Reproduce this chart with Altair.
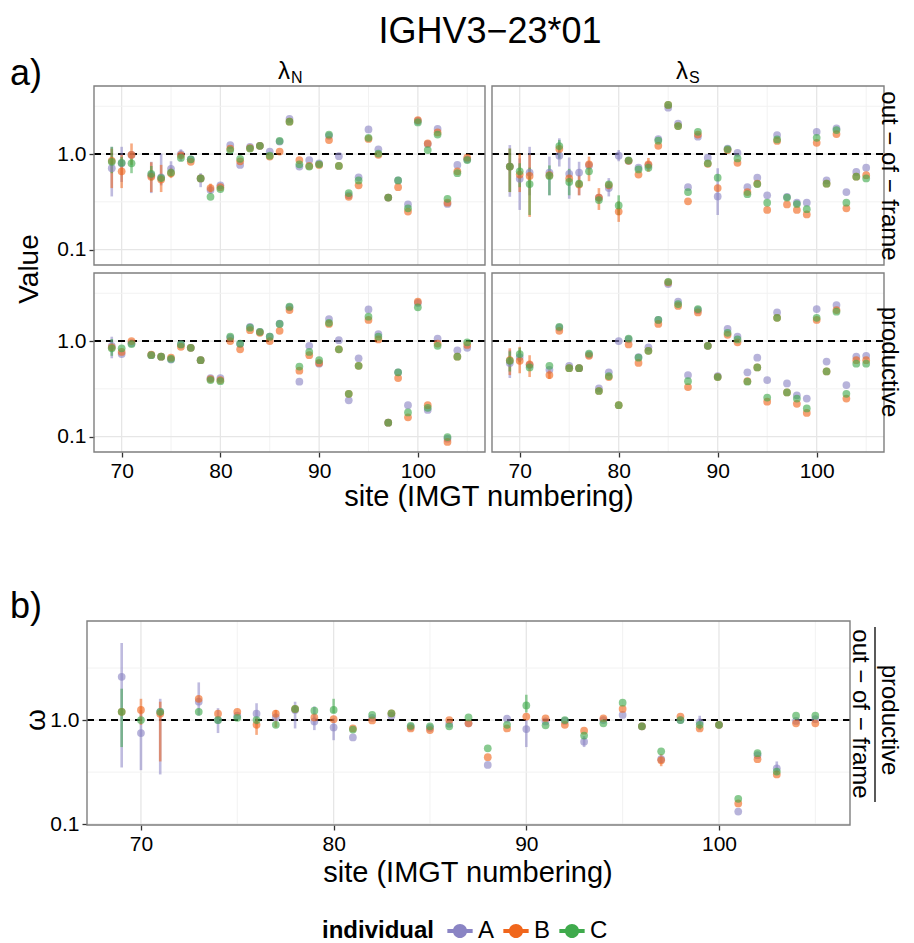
import altair as alt
import pandas as pd

SITES = [69, 70, 71] + list(range(73, 106))
INDIVIDUALS = ["A", "B", "C"]
COLORS = ["#8a84c4", "#f0661c", "#3faa4c"]
PANEL_TITLE = "IGHV3−23*01"

# out-of-frame, lambda_N
ON_A = [0.71, 0.80, 0.98, 0.60, 0.57, 0.70, 1.00, 0.88, 0.555, 0.42, 0.47, 1.24, 0.77, 1.19, 1.22, 1.06, 1.35, 2.33,
        0.74, 0.865, 0.80, 1.55, 0.95, 0.37, 0.57, 1.81, 1.12, 0.35, 0.53, 0.297, 2.22, 1.27, 1.83, 0.30, 0.77, 0.88]
ON_B = [0.85, 0.66, 0.98, 0.58, 0.54, 0.63, 0.97, 0.83, 0.555, 0.44, 0.45, 1.14, 0.84, 1.15, 1.22, 0.94, 1.06, 2.18,
        0.865, 0.75, 0.77, 1.40, 0.75, 0.357, 0.47, 1.44, 0.98, 0.35, 0.45, 0.25, 2.27, 1.29, 1.68, 0.31, 0.66, 0.915]
ON_C = [0.83, 0.81, 0.80, 0.62, 0.56, 0.64, 0.91, 0.88, 0.555, 0.357, 0.43, 1.10, 0.89, 1.14, 1.22, 0.96, 1.37, 2.18,
        0.78, 0.74, 0.78, 1.60, 0.75, 0.39, 0.53, 1.48, 1.01, 0.35, 0.53, 0.27, 2.14, 1.10, 1.60, 0.34, 0.63, 0.865]
# out-of-frame, lambda_S
OS_A = [0.74, 0.55, 0.64, 0.64, 0.96, 0.62, 0.64, 0.76, 0.35, 0.44, 0.96, 0.85, 0.72, 0.76, 1.43, 3.05, 2.08, 0.45,
        1.52, 0.915, 0.36, 1.14, 1.03, 0.45, 0.565, 0.37, 1.58, 0.357, 0.31, 0.31, 1.71, 0.53, 1.85, 0.40, 0.65, 0.72]
OS_B = [0.74, 0.61, 0.59, 0.60, 1.13, 0.555, 0.48, 0.78, 0.35, 0.47, 0.25, 0.85, 0.61, 0.78, 1.22, 3.26, 1.96, 0.32,
        1.60, 0.79, 0.44, 1.10, 0.81, 0.40, 0.49, 0.26, 1.37, 0.297, 0.26, 0.233, 1.31, 0.49, 1.62, 0.27, 0.58, 0.60]
OS_C = [0.74, 0.66, 0.485, 0.59, 1.21, 0.51, 0.49, 0.66, 0.33, 0.48, 0.29, 0.86, 0.69, 0.72, 1.38, 3.26, 1.96, 0.40,
        1.71, 0.80, 0.565, 1.12, 0.90, 0.38, 0.485, 0.31, 1.42, 0.35, 0.30, 0.265, 1.48, 0.49, 1.78, 0.31, 0.58, 0.555]
# productive, lambda_N
PN_A = [0.89, 0.73, 0.95, 0.71, 0.685, 0.64, 0.92, 0.85, 0.63, 0.41, 0.41, 1.08, 0.93, 1.41, 1.25, 1.11, 1.52, 2.25,
        0.375, 0.89, 0.58, 1.70, 1.02, 0.24, 0.66, 2.14, 1.18, 0.14, 0.47, 0.213, 2.50, 0.19, 1.06, 0.095, 0.80, 0.85]
PN_B = [0.86, 0.77, 1.00, 0.72, 0.685, 0.67, 0.87, 0.85, 0.63, 0.40, 0.39, 1.00, 0.82, 1.30, 1.22, 1.00, 1.28, 2.11,
        0.49, 0.71, 0.59, 1.51, 0.82, 0.28, 0.55, 1.66, 1.04, 0.14, 0.41, 0.159, 2.58, 0.213, 0.94, 0.088, 0.685, 0.91]
PN_C = [0.84, 0.84, 0.93, 0.71, 0.685, 0.65, 0.92, 0.85, 0.63, 0.39, 0.38, 1.11, 0.94, 1.38, 1.25, 1.11, 1.51, 2.29,
        0.54, 0.77, 0.63, 1.55, 0.82, 0.28, 0.55, 1.80, 1.11, 0.14, 0.47, 0.179, 2.25, 0.20, 0.89, 0.099, 0.685, 0.97]
# productive, lambda_S
PS_A = [0.59, 0.68, 0.56, 0.50, 1.38, 0.55, 0.52, 0.72, 0.32, 0.47, 1.00, 1.04, 0.68, 0.86, 1.66, 3.95, 2.58, 0.44,
        2.10, 0.89, 0.43, 1.34, 1.11, 0.47, 0.67, 0.39, 1.99, 0.36, 0.27, 0.25, 2.16, 0.61, 2.38, 0.346, 0.685, 0.70]
PS_B = [0.63, 0.62, 0.57, 0.44, 1.28, 0.52, 0.52, 0.70, 0.30, 0.42, 0.213, 0.92, 0.59, 0.79, 1.51, 4.10, 2.33, 0.33,
        1.99, 0.89, 0.42, 1.16, 0.97, 0.38, 0.53, 0.232, 1.75, 0.29, 0.22, 0.177, 1.66, 0.48, 2.11, 0.25, 0.63, 0.63]
PS_C = [0.62, 0.73, 0.53, 0.55, 1.41, 0.52, 0.52, 0.74, 0.30, 0.43, 0.213, 1.06, 0.67, 0.79, 1.66, 4.17, 2.44, 0.38,
        2.16, 0.89, 0.42, 1.22, 1.04, 0.375, 0.53, 0.256, 1.75, 0.29, 0.25, 0.197, 1.75, 0.48, 2.03, 0.28, 0.58, 0.58]
# omega = productive / out-of-frame
W_A = [2.6, 0.75, 1.20, 1.50, 1.00, 1.10, 1.15, 1.06, 1.25, 0.97, 0.85, 0.68, 1.05, 1.10, 0.86, 0.84, 0.92, 0.93,
       0.37, 1.03, 0.82, 0.97, 0.98, 0.62, 1.00, 1.12, 0.87, 0.42, 1.00, 0.95, 0.90, 0.132, 0.46, 0.344, 0.98, 1.02]
W_B = [1.20, 1.25, 1.15, 1.60, 1.15, 1.20, 0.90, 1.15, 1.28, 1.06, 1.02, 0.83, 0.99, 1.16, 0.83, 0.80, 1.00, 0.93,
       0.44, 0.83, 1.08, 1.04, 0.90, 0.79, 1.04, 1.28, 0.87, 0.41, 1.08, 0.83, 0.90, 0.158, 0.42, 0.30, 0.93, 0.93]
W_C = [1.20, 1.00, 1.20, 1.20, 1.00, 1.05, 1.00, 0.90, 1.28, 1.23, 1.25, 0.81, 1.12, 1.16, 0.88, 0.87, 0.87, 1.06,
       0.535, 0.90, 1.38, 0.89, 1.00, 0.71, 0.93, 1.47, 0.87, 0.50, 1.00, 0.90, 0.90, 0.175, 0.48, 0.32, 1.10, 1.10]

# error bars (low, high) where visible
ERR = {
    ("ON", "A", 69): (0.36, 1.19), ("ON", "B", 69): (0.44, 1.14), ("ON", "C", 69): (0.63, 1.19),
    ("ON", "A", 70): (0.51, 1.19), ("ON", "B", 70): (0.44, 0.98), ("ON", "C", 70): (0.74, 0.93),
    ("ON", "B", 71): (0.77, 1.29), ("ON", "C", 71): (0.63, 0.90),
    ("ON", "A", 73): (0.39, 0.83), ("ON", "B", 73): (0.40, 0.82), ("ON", "C", 73): (0.53, 0.75),
    ("ON", "A", 74): (0.47, 1.01), ("ON", "B", 74): (0.40, 0.77),
    ("ON", "A", 75): (0.60, 0.84), ("ON", "B", 75): (0.56, 0.72),
    ("ON", "A", 76): (0.84, 1.12), ("ON", "A", 78): (0.45, 0.63), ("ON", "B", 79): (0.39, 0.49),
    ("OS", "A", 69): (0.357, 1.24), ("OS", "B", 69): (0.40, 1.14), ("OS", "C", 69): (0.40, 1.14),
    ("OS", "A", 70): (0.26, 0.90), ("OS", "B", 70): (0.40, 1.01), ("OS", "C", 70): (0.45, 0.80),
    ("OS", "A", 71): (0.37, 1.19), ("OS", "B", 71): (0.22, 0.98), ("OS", "C", 71): (0.23, 0.72),
    ("OS", "A", 73): (0.37, 0.94), ("OS", "C", 73): (0.37, 0.76),
    ("OS", "A", 74): (0.74, 1.46), ("OS", "C", 74): (0.90, 1.40),
    ("OS", "A", 75): (0.34, 0.92), ("OS", "C", 75): (0.37, 0.70),
    ("OS", "A", 76): (0.37, 0.83), ("OS", "B", 76): (0.37, 0.60),
    ("OS", "B", 77): (0.52, 0.94), ("OS", "B", 78): (0.26, 0.44), ("OS", "A", 79): (0.36, 0.56),
    ("OS", "A", 80): (0.84, 1.10), ("OS", "B", 80): (0.195, 0.32), ("OS", "C", 80): (0.23, 0.37),
    ("OS", "B", 83): (0.65, 0.91), ("OS", "A", 90): (0.23, 0.71),
    ("PN", "A", 69): (0.66, 1.11), ("PN", "C", 69): (0.70, 1.05),
    ("PS", "A", 69): (0.41, 0.81), ("PS", "B", 69): (0.44, 0.84), ("PS", "C", 69): (0.48, 0.78),
    ("PS", "B", 70): (0.46, 0.87), ("PS", "C", 70): (0.60, 0.85),
    ("PS", "B", 71): (0.42, 0.71), ("PS", "B", 73): (0.40, 0.50),
    ("W", "A", 69): (0.35, 5.5), ("W", "C", 69): (0.55, 2.0),
    ("W", "A", 70): (0.33, 1.25), ("W", "B", 70): (0.90, 1.60),
    ("W", "A", 71): (0.30, 1.60), ("W", "B", 71): (0.40, 1.50),
    ("W", "A", 73): (1.1, 2.3), ("W", "A", 74): (0.75, 1.30),
    ("W", "A", 76): (0.90, 1.45), ("W", "B", 76): (0.72, 1.04), ("W", "B", 77): (0.85, 1.25),
    ("W", "A", 78): (0.83, 1.50), ("W", "A", 79): (0.80, 1.35),
    ("W", "A", 80): (0.64, 1.04), ("W", "C", 80): (1.16, 1.60),
    ("W", "A", 90): (0.55, 1.00), ("W", "C", 90): (1.18, 1.75),
    ("W", "A", 93): (0.55, 0.70), ("W", "B", 97): (0.36, 0.47), ("W", "A", 99): (0.80, 1.10),
    ("W", "A", 103): (0.30, 0.40),
}

GX_MAJOR = [70, 80, 90, 100]
GX_MINOR = [75, 85, 95, 105]
GY_MAJOR = [0.1, 1.0]
GY_MINOR = [0.316, 3.16]
XDOM = [67.2, 106.8]
YDOM_A = [0.069, 5.15]
YDOM_B = [0.098, 8.95]

FONT = "Liberation Sans"


def panel_df(key, a, b, c):
    rows = []
    for ind, vals in zip(INDIVIDUALS, (a, b, c)):
        for s, v in zip(SITES, vals):
            lo, hi = ERR.get((key, ind, s), (v, v))
            rows.append(dict(site=s, individual=ind, value=v, lo=lo, hi=hi))
    return pd.DataFrame(rows)


SYMBOL = ("M-1,-0.15H1V0.15H-1Z "
          "M0.56,0A0.56,0.56,0,1,1,-0.56,0A0.56,0.56,0,1,1,0.56,0Z")
LEG = alt.Legend(title="individual", orient="none", legendX=235, legendY=832,
                 direction="horizontal", titleOrient="left", titleFontSize=24,
                 titleFontWeight="bold", titleColor="black", titleFont=FONT,
                 labelFontSize=24, labelFont=FONT, labelColor="black",
                 symbolType=SYMBOL, symbolSize=640, symbolStrokeWidth=0,
                 symbolOpacity=1, columnPadding=8, labelOffset=5, titlePadding=12)
CSCALE = alt.Scale(domain=INDIVIDUALS, range=COLORS)
ONE = pd.DataFrame({"k": [0]})


def panel(df, xr, yr, ydom, xaxis=None, yaxis=None):
    xs = alt.Scale(domain=XDOM, range=list(xr), nice=False, zero=False)
    ys = alt.Scale(type="log", domain=ydom, range=[yr[1], yr[0]], nice=False)
    layers = []
    for vals, col, w in ((GX_MINOR, "#f2f2f2", 1.0), (GX_MAJOR, "#e6e6e6", 1.3)):
        layers.append(alt.Chart(pd.DataFrame({"g": vals})).mark_rule(color=col, strokeWidth=w).encode(
            x=alt.X("g:Q", scale=xs, axis=None), y=alt.value(yr[0]), y2=alt.value(yr[1])))
    for vals, col, w in ((GY_MINOR, "#f2f2f2", 1.0), (GY_MAJOR, "#e6e6e6", 1.3)):
        layers.append(alt.Chart(pd.DataFrame({"g": vals})).mark_rule(color=col, strokeWidth=w).encode(
            y=alt.Y("g:Q", scale=ys, axis=None), x=alt.value(xr[0]), x2=alt.value(xr[1])))
    layers.append(alt.Chart(pd.DataFrame({"g": [1.0]})).mark_rule(
        color="black", strokeWidth=2, strokeDash=[7, 5]).encode(
        y=alt.Y("g:Q", scale=ys, axis=None), x=alt.value(xr[0]), x2=alt.value(xr[1])))
    layers.append(alt.Chart(df).mark_rule(strokeWidth=2.6, opacity=0.55).encode(
        x=alt.X("site:Q", scale=xs, axis=None),
        y=alt.Y("lo:Q", scale=ys, axis=None), y2="hi:Q",
        color=alt.Color("individual:N", scale=CSCALE, legend=LEG)))
    layers.append(alt.Chart(df).mark_circle(size=60, opacity=0.62).encode(
        x=alt.X("site:Q", scale=xs, axis=xaxis, title=None),
        y=alt.Y("value:Q", scale=ys, axis=yaxis, title=None),
        color=alt.Color("individual:N", scale=CSCALE, legend=LEG)))
    layers.append(alt.Chart(ONE).mark_rect(fillOpacity=0, stroke="#7f7f7f", strokeWidth=1.4).encode(
        x=alt.value(xr[0]), x2=alt.value(xr[1]), y=alt.value(yr[0]), y2=alt.value(yr[1])))
    return layers


def text(t, x, y, size, angle=0, align="center", baseline="middle", weight="normal"):
    return alt.Chart(ONE).mark_text(text=t, fontSize=size, angle=angle, align=align, baseline=baseline,
                                    font=FONT, fontWeight=weight, color="black").encode(
        x=alt.value(x), y=alt.value(y))


def xaxis(offset):
    return alt.Axis(orient="bottom", offset=offset, values=GX_MAJOR, format="d", grid=False,
                    domain=False, ticks=True, labelFontSize=21, labelFont=FONT, labelColor="black",
                    tickColor="#333333", tickSize=5, tickWidth=1.3, labelPadding=3)


def yaxis(offset):
    return alt.Axis(orient="left", offset=offset, values=GY_MAJOR, format=".1f", grid=False,
                    domain=False, ticks=True, labelFontSize=21, labelFont=FONT, labelColor="black",
                    tickColor="#333333", tickSize=5, tickWidth=1.3, labelPadding=3)


W, H = 797, 739
TLx, TRx = (7, 398), (405, 797)
TOPy, BOTy = (0, 179), (187, 366)
Bx, By = (0, 763), (535, 739)

layers = []
layers += panel(panel_df("ON", ON_A, ON_B, ON_C), TLx, TOPy, YDOM_A, None, yaxis(-7))
layers += panel(panel_df("OS", OS_A, OS_B, OS_C), TRx, TOPy, YDOM_A, None, None)
layers += panel(panel_df("PN", PN_A, PN_B, PN_C), TLx, BOTy, YDOM_A, xaxis(-(H - BOTy[1])), yaxis(-7))
layers += panel(panel_df("PS", PS_A, PS_B, PS_C), TRx, BOTy, YDOM_A, xaxis(-(H - BOTy[1])), None)
layers += panel(panel_df("W", W_A, W_B, W_C), Bx, By, YDOM_B, xaxis(0), yaxis(0))

layers += [
    text(PANEL_TITLE, 403, -54, 36),
    text("a)", -77, -12, 36, align="left"),
    text("λ", 197, -14, 24), text("N", 204, -8, 16, align="left"),
    text("λ", 595, -14, 24), text("S", 602, -8, 16, align="left"),
    text("Value", -57, 183, 28, angle=270),
    text("site (IMGT numbering)", 402, 411, 29),
    text("out − of − frame", 802, 90, 24, angle=90),
    text("productive", 802, 276, 24, angle=90),
    text("b)", -77, 521, 36, align="left"),
    text("ω", -50, 634, 28, angle=270),
    text("site (IMGT numbering)", 381, 787, 29),
    text("productive", 802, 634, 24, angle=90),
    text("out − of − frame", 773, 628, 24, angle=90),
]
layers.append(alt.Chart(ONE).mark_rule(color="black", strokeWidth=1.3).encode(
    x=alt.value(788), y=alt.value(541), y2=alt.value(716)))
# invisible anchor giving the title some headroom
layers.append(alt.Chart(ONE).mark_point(opacity=0, size=1).encode(x=alt.value(400), y=alt.value(-77)))

chart = alt.layer(*layers).resolve_scale(x="independent", y="independent").properties(
    width=W, height=H, padding={"left": 2, "top": 0, "right": 3, "bottom": 0}
).configure(font=FONT).configure_view(stroke=None)

chart.save("out.html", embed_options={"renderer": "svg", "actions": False})
